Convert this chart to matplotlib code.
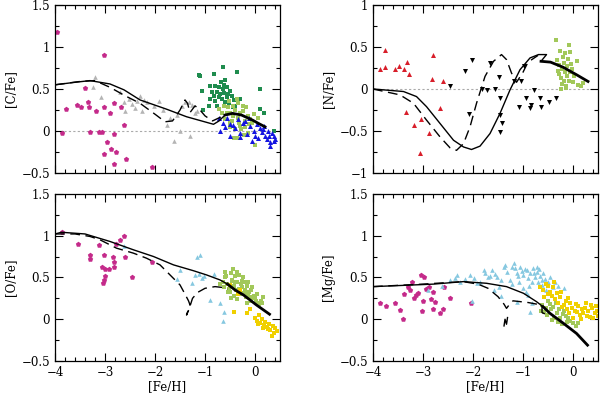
import matplotlib
matplotlib.use("Agg")
import matplotlib.pyplot as plt
from matplotlib.ticker import MultipleLocator, FuncFormatter

plt.rcParams['font.family'] = ['DejaVu Serif']
plt.rcParams['font.size'] = 8.5

# colours of the star samples
MAG = '#c42a8a'
GREY = '#b4b4b4'
DKGREEN = '#1f8c4e'
LTGREEN = '#a2c85a'
BLUE = '#1414e0'
RED = '#d81e2a'
LTBLUE = '#86c8e0'
YELLOW = '#f0d000'

# ---------------- [C/Fe] ----------------
c_mag = [(-3.97, 1.18), (-3.87, -0.02), (-3.78, 0.26), (-3.57, 0.31), (-3.49, 0.28), (-3.41, 0.51),
         (-3.35, 0.35), (-3.33, 0.29), (-3.30, -0.01), (-3.18, 0.24), (-3.13, -0.01), (-3.07, -0.01),
         (-3.03, 0.90), (-3.03, 0.29), (-3.03, -0.27), (-2.97, -0.13), (-2.90, 0.22), (-2.88, -0.21),
         (-2.83, 0.33), (-2.82, -0.03), (-2.82, -0.39), (-2.78, -0.25), (-2.69, 0.28), (-2.62, 0.07),
         (-2.58, -0.33), (-2.07, -0.43)]
c_grey = [(-3.21, 0.64), (-3.25, 0.52), (-3.09, 0.41), (-2.71, 0.46), (-2.63, 0.34), (-2.60, 0.24),
          (-2.53, 0.38), (-2.47, 0.32), (-2.40, 0.27), (-2.37, 0.36), (-2.30, 0.42), (-2.27, 0.24),
          (-2.23, 0.37), (-2.17, 0.34), (-2.03, 0.30), (-1.93, 0.36), (-1.85, 0.25), (-1.77, 0.07),
          (-1.70, 0.16), (-1.63, -0.12), (-1.57, 0.19), (-1.50, 0.00), (-1.47, 0.30), (-1.40, 0.34),
          (-1.33, 0.34), (-1.30, -0.06), (-1.27, 0.31), (-1.20, 0.22), (-1.17, 0.24)]
c_dkgreen = [(-1.13, 0.67), (-1.11, 0.66), (-0.83, 0.68), (-0.65, 0.76), (-0.37, 0.70), (-1.07, 0.48),
             (-0.60, 0.61), (-0.62, 0.55), (-0.90, 0.54), (-0.80, 0.53), (-0.73, 0.52), (-0.64, 0.50),
             (-0.57, 0.52), (-0.50, 0.48), (-0.87, 0.46), (-0.77, 0.47), (-0.70, 0.44), (-0.63, 0.45),
             (-0.83, 0.42), (-0.73, 0.40), (-0.67, 0.38), (-0.57, 0.40), (-0.47, 0.42), (-0.90, 0.38),
             (-0.80, 0.36), (-0.60, 0.35), (-0.43, 0.37), (-0.30, 0.38), (-0.93, 0.30), (0.10, 0.50),
             (0.10, 0.26), (0.17, 0.22), (0.37, 0.00), (-0.40, 0.30), (-1.05, 0.25), (-0.77, 0.30),
             (-0.53, 0.33), (-0.45, 0.28), (-0.68, 0.58), (-0.55, 0.44)]
c_ltgreen = [(-0.53, 0.36), (-0.45, 0.30), (-0.37, 0.38), (-0.50, 0.22), (-0.30, 0.22), (-0.25, 0.24),
             (-0.15, 0.18), (-0.03, 0.20), (-0.30, 0.06), (-0.40, 0.02), (-0.43, -0.08), (-0.37, -0.08),
             (-0.20, 0.05), (0.00, -0.17), (-0.60, 0.14), (-0.57, 0.22), (-0.67, 0.22), (-0.47, 0.12),
             (-0.10, 0.14), (-0.35, 0.15), (-0.55, 0.28), (-0.25, 0.30), (-0.45, 0.18), (-0.33, 0.10),
             (-0.20, 0.12), (-0.12, 0.08), (-0.50, 0.05), (-0.28, 0.02), (-0.40, 0.25), (-0.15, -0.02),
             (-0.07, 0.10), (-0.62, 0.30), (-0.72, 0.26), (0.05, 0.16), (-0.22, -0.05), (-0.35, 0.33),
             (-0.50, 0.10), (-0.18, 0.28)]
c_blue = [(-0.71, 0.00), (-0.73, 0.16), (-0.57, 0.16), (-0.50, 0.08), (-0.45, 0.07), (-0.40, 0.04),
          (-0.30, -0.02), (-0.20, 0.12), (-0.13, 0.16), (-0.10, 0.06), (-0.03, 0.00), (0.00, -0.06),
          (0.03, 0.08), (0.10, 0.04), (0.13, -0.01), (0.15, 0.02), (0.20, -0.06), (0.23, -0.10),
          (0.25, 0.00), (0.30, -0.13), (0.27, -0.06), (0.37, -0.06), (0.37, -0.12), (0.30, -0.18),
          (-0.30, -0.07), (-0.07, -0.12), (-0.17, -0.04), (-0.50, -0.06), (-0.60, 0.05), (-0.25, 0.10),
          (0.05, -0.08), (0.17, 0.06), (0.33, -0.02), (-0.35, 0.14), (-0.65, 0.10), (0.40, -0.10)]
c_solid = [(-4.0, 0.55), (-3.6, 0.58), (-3.3, 0.60), (-2.9, 0.56), (-2.62, 0.49), (-2.3, 0.37),
           (-1.77, 0.26), (-1.37, 0.17), (-0.95, 0.10), (-0.83, 0.08), (-0.72, 0.12), (-0.6, 0.19)]
c_thick = [(-0.6, 0.19), (-0.45, 0.21), (-0.27, 0.19), (-0.05, 0.13), (0.07, 0.09), (0.2, 0.05)]
c_dash = [(-4.0, 0.55), (-3.5, 0.59), (-3.2, 0.60), (-2.9, 0.52), (-2.6, 0.42), (-2.3, 0.33),
          (-2.0, 0.20), (-1.8, 0.11), (-1.65, 0.12), (-1.5, 0.25), (-1.4, 0.37), (-1.35, 0.33),
          (-1.3, 0.22), (-1.2, 0.30), (-1.1, 0.25), (-1.0, 0.18), (-0.85, 0.12), (-0.6, 0.19)]

# ---------------- [N/Fe] ----------------
n_red = [(-3.86, 0.24), (-3.76, 0.46), (-3.76, 0.26), (-3.56, 0.24), (-3.48, 0.27), (-3.39, 0.24),
         (-3.33, 0.32), (-3.29, 0.18), (-3.34, -0.27), (-3.18, -0.43), (-3.05, -0.36), (-3.06, -0.76),
         (-2.89, -0.52), (-2.83, 0.12), (-2.81, 0.41), (-2.67, -0.23), (-2.61, 0.10)]
n_black = [(-2.46, 0.04), (-2.16, 0.21), (-2.09, -0.30), (-2.03, 0.35), (-1.83, 0.00), (-1.73, -0.01),
           (-1.67, 0.31), (-1.56, 0.00), (-1.48, 0.14), (-1.47, -0.11), (-1.47, -0.31), (-1.46, -0.51),
           (-1.43, -0.41), (-1.19, 0.10), (-1.05, 0.10), (-1.09, -0.21), (-0.99, 0.27), (-0.94, -0.11),
           (-0.87, -0.23), (-0.84, -0.19), (-0.79, -0.01), (-0.66, -0.11), (-0.65, -0.22), (-0.49, -0.16),
           (-0.34, -0.11)]
n_ltgreen = [(-0.34, 0.58), (-0.26, 0.45), (-0.16, 0.43), (-0.09, 0.52), (-0.06, 0.44), (0.07, 0.33),
             (-0.19, 0.31), (-0.29, 0.29), (-0.12, 0.27), (-0.22, 0.24), (-0.16, 0.20), (-0.06, 0.20),
             (-0.30, 0.22), (-0.25, 0.13), (-0.12, 0.16), (-0.18, 0.10), (-0.08, 0.10), (0.00, 0.08),
             (0.10, 0.05), (-0.15, 0.04), (-0.25, 0.00), (-0.32, 0.34), (-0.20, 0.38), (-0.05, 0.30),
             (-0.10, 0.36), (0.02, 0.15), (0.15, 0.04), (-0.28, 0.18), (-0.14, 0.01), (-0.22, 0.06),
             (0.20, 0.07), (-0.02, 0.24)]
n_solid = [(-4.0, 0.0), (-3.59, -0.02), (-3.39, -0.03), (-3.13, -0.09), (-2.93, -0.21), (-2.66, -0.41),
           (-2.39, -0.61), (-2.19, -0.69), (-2.03, -0.72), (-1.86, -0.68), (-1.66, -0.53), (-1.46, -0.29),
           (-1.26, -0.01), (-1.06, 0.23), (-0.86, 0.37), (-0.69, 0.41), (-0.53, 0.41), (-0.64, 0.33)]
n_thick = [(-0.64, 0.33), (-0.45, 0.32), (-0.2, 0.26), (0.07, 0.17), (0.3, 0.09)]
n_dash = [(-4.0, 0.0), (-3.46, -0.07), (-3.19, -0.17), (-2.93, -0.37), (-2.66, -0.57), (-2.46, -0.70),
          (-2.33, -0.73), (-2.19, -0.65), (-2.06, -0.45), (-1.93, -0.17), (-1.76, 0.15), (-1.59, 0.33),
          (-1.43, 0.41), (-1.33, 0.35), (-1.23, 0.19), (-1.13, 0.08), (-1.0, 0.2), (-0.9, 0.32),
          (-0.7, 0.40)]

# ---------------- [O/Fe] ----------------
o_mag = [(-3.87, 1.04), (-3.55, 0.90), (-3.30, 0.77), (-3.30, 0.72), (-3.13, 0.89), (-3.03, 0.77),
         (-3.07, 0.63), (-3.00, 0.60), (-2.93, 0.60), (-3.00, 0.52), (-3.03, 0.47), (-3.05, 0.43),
         (-2.85, 0.75), (-2.83, 0.69), (-2.83, 0.63), (-2.78, 0.90), (-2.70, 0.95), (-2.62, 1.00),
         (-2.60, 0.75), (-2.47, 0.51), (-2.07, 0.69)]
o_ltblue = [(-2.62, 0.88), (-1.57, 0.48), (-1.50, 0.59), (-1.27, 0.43), (-1.20, 0.53), (-1.17, 0.75),
            (-1.10, 0.77), (-1.13, 0.54), (-1.07, 0.49), (-1.03, 0.52), (-0.90, 0.23), (-0.83, 0.54),
            (-0.70, 0.19), (-0.65, -0.02), (-0.62, 0.09)]
o_ltgreen = [(-0.65, 0.45), (-0.61, 0.50), (-0.56, 0.42), (-0.49, 0.55), (-0.46, 0.47), (-0.41, 0.52),
             (-0.36, 0.44), (-0.29, 0.42), (-0.26, 0.38), (-0.21, 0.35), (-0.14, 0.30), (-0.11, 0.27),
             (-0.04, 0.25), (0.01, 0.22), (0.06, 0.20), (0.12, 0.22), (-0.62, 0.38), (-0.53, 0.36),
             (-0.43, 0.40), (-0.33, 0.36), (-0.23, 0.30), (-0.13, 0.33), (-0.02, 0.28), (0.08, 0.18),
             (-0.58, 0.52), (-0.47, 0.46), (-0.38, 0.35), (-0.27, 0.46), (-0.17, 0.40), (-0.08, 0.22),
             (0.03, 0.30), (0.13, 0.20), (-0.51, 0.32), (-0.41, 0.44), (-0.31, 0.30), (-0.19, 0.26),
             (-0.09, 0.35), (0.00, 0.27), (-0.45, 0.60), (-0.36, 0.57), (-0.24, 0.50), (-0.15, 0.44),
             (-0.06, 0.38), (-0.70, 0.42), (-0.55, 0.33), (-0.33, 0.53), (-0.43, 0.28), (-0.27, 0.31),
             (-0.37, 0.24), (-0.17, 0.20), (-0.60, 0.56), (0.15, 0.26), (-0.48, 0.25), (-0.23, 0.45)]
o_yellow = [(-0.50, 0.41), (-0.43, 0.09), (-0.17, 0.07), (0.00, 0.01), (0.03, -0.02), (0.10, -0.04),
            (0.17, -0.07), (0.23, -0.09), (0.30, -0.13), (0.37, -0.16), (0.33, -0.20), (0.13, 0.00),
            (0.07, 0.05), (0.20, -0.03), (0.27, -0.06), (0.40, -0.11), (0.43, -0.14), (0.35, -0.08),
            (-0.30, 0.35), (-0.35, 0.30), (0.25, -0.12), (0.05, -0.06), (-0.10, 0.12), (0.15, -0.10)]
o_solid = [(-4.0, 1.02), (-3.87, 1.04), (-3.4, 1.02), (-2.9, 0.93), (-2.43, 0.83), (-2.03, 0.75),
           (-1.63, 0.65), (-1.23, 0.58), (-0.97, 0.53), (-0.7, 0.47), (-0.55, 0.42)]
o_thick = [(-0.55, 0.42), (-0.4, 0.35), (-0.23, 0.29), (0.03, 0.17), (0.29, 0.06)]
o_dash = [(-4.0, 1.02), (-3.6, 1.02), (-3.3, 0.99), (-3.1, 0.95), (-2.77, 0.85), (-2.43, 0.79),
          (-2.17, 0.73), (-1.9, 0.65), (-1.7, 0.53), (-1.5, 0.41), (-1.4, 0.30), (-1.33, 0.22),
          (-1.3, 0.17), (-1.37, 0.05), (-1.32, 0.12), (-1.25, 0.25), (-1.15, 0.32), (-1.0, 0.37),
          (-0.8, 0.39), (-0.65, 0.38), (-0.55, 0.36)]

# ---------------- [Mg/Fe] ----------------
mg_mag = [(-3.86, 0.20), (-3.74, 0.16), (-3.56, 0.20), (-3.47, 0.11), (-3.41, 0.00), (-3.38, 0.30),
          (-3.31, 0.38), (-3.27, 0.35), (-3.23, 0.44), (-3.19, 0.25), (-3.14, 0.29), (-3.10, 0.31),
          (-3.05, 0.53), (-2.99, 0.51), (-3.03, 0.10), (-3.01, 0.22), (-2.94, 0.36), (-2.89, 0.39),
          (-2.85, 0.24), (-2.81, 0.33), (-2.81, 0.12), (-2.76, 0.21), (-2.66, 0.07), (-2.61, 0.12),
          (-2.59, 0.39), (-2.46, 0.25), (-2.05, 0.20)]
mg_ltblue = [(-2.90, 0.35), (-2.47, 0.47), (-2.36, 0.49), (-2.33, 0.53), (-2.26, 0.45), (-2.16, 0.48),
             (-2.06, 0.53), (-1.99, 0.49), (-1.93, 0.43), (-1.86, 0.45), (-1.79, 0.59), (-1.76, 0.55),
             (-1.66, 0.52), (-1.63, 0.59), (-1.59, 0.35), (-1.56, 0.54), (-1.53, 0.50), (-1.49, 0.39),
             (-1.45, 0.47), (-1.39, 0.63), (-1.36, 0.65), (-1.33, 0.57), (-1.26, 0.47), (-1.19, 0.67),
             (-1.22, 0.62), (-1.16, 0.61), (-1.13, 0.55), (-1.10, 0.52), (-1.06, 0.63), (-1.03, 0.58),
             (-1.00, 0.53), (-1.00, 0.37), (-0.96, 0.60), (-0.93, 0.59), (-0.90, 0.49), (-0.90, 0.29),
             (-0.86, 0.55), (-0.83, 0.45), (-0.83, 0.19), (-0.80, 0.61), (-0.79, 0.55), (-0.76, 0.50),
             (-0.73, 0.57), (-0.73, 0.63), (-0.70, 0.45), (-0.66, 0.52), (-0.63, 0.41), (-0.60, 0.55),
             (-0.56, 0.48), (-0.50, 0.44), (-0.46, 0.51), (-0.40, 0.38), (-0.36, 0.45), (-0.30, 0.40),
             (-0.19, 0.37), (-1.13, 0.21), (-0.86, 0.09), (-0.95, 0.33), (-1.45, 0.28), (-2.03, 0.22),
             (-2.63, 0.40), (-1.70, 0.50), (-1.23, 0.42), (-0.55, 0.35), (-0.88, 0.40), (-0.68, 0.60),
             (-1.08, 0.45), (-0.62, 0.47)]
mg_ltgreen = [(-0.59, 0.09), (-0.52, 0.05), (-0.45, 0.12), (-0.38, 0.02), (-0.33, 0.08), (-0.26, 0.01),
              (-0.20, 0.06), (-0.13, -0.03), (-0.06, -0.02), (0.00, -0.05), (-0.40, 0.15), (-0.47, 0.18),
              (-0.30, -0.03), (-0.15, 0.04), (-0.22, -0.06), (-0.55, 0.13), (-0.62, 0.17), (-0.35, 0.20),
              (-0.10, 0.01), (0.05, -0.08), (-0.42, -0.01), (-0.28, 0.12), (-0.50, 0.22), (-0.18, 0.10),
              (0.10, -0.04), (-0.65, 0.10)]
mg_yellow = [(-0.66, 0.39), (-0.60, 0.35), (-0.55, 0.42), (-0.50, 0.30), (-0.46, 0.33), (-0.43, 0.28),
             (-0.40, 0.38), (-0.36, 0.24), (-0.33, 0.31), (-0.30, 0.20), (-0.26, 0.26), (-0.22, 0.15),
             (-0.19, 0.17), (-0.15, 0.22), (-0.12, 0.12), (-0.08, 0.08), (-0.06, 0.20), (-0.03, 0.14),
             (0.00, 0.02), (0.03, 0.10), (0.07, 0.09), (0.10, 0.16), (0.13, 0.05), (0.17, 0.12),
             (0.20, 0.07), (0.23, 0.14), (0.27, 0.04), (0.30, 0.10), (0.33, 0.03), (0.37, 0.13),
             (0.40, 0.02), (0.43, 0.07), (0.47, 0.10), (0.50, 0.04), (0.45, 0.16), (0.53, 0.08),
             (-0.50, 0.40), (-0.38, 0.44), (-0.58, 0.27), (-0.25, 0.32), (0.05, 0.18), (0.15, 0.00),
             (-0.10, 0.25), (0.25, 0.20), (0.35, 0.17)]
mg_solid = [(-4.0, 0.39), (-2.79, 0.42), (-2.19, 0.45), (-1.73, 0.43), (-1.33, 0.39), (-0.99, 0.31),
            (-0.73, 0.21), (-0.6, 0.15)]
mg_thick = [(-0.6, 0.15), (-0.46, 0.07), (-0.19, -0.05), (0.07, -0.17), (0.29, -0.31)]
mg_dash = [(-4.0, 0.39), (-3.0, 0.42), (-2.2, 0.45), (-1.9, 0.42), (-1.7, 0.37), (-1.5, 0.27),
           (-1.38, 0.18), (-1.33, 0.13), (-1.28, 0.17), (-1.2, 0.22), (-1.05, 0.21), (-0.9, 0.20),
           (-0.72, 0.18), (-0.62, 0.16), (-0.62, 0.08), (-0.55, 0.06)]
mg_dash_n = [(-1.38, -0.08), (-1.36, 0.0), (-1.33, -0.06), (-1.31, 0.02)]


def xy(pts):
    return [p[0] for p in pts], [p[1] for p in pts]


def dots(ax, pts, color, marker, size=11):
    x, y = xy(pts)
    ax.scatter(x, y, s=size, c=color, marker=marker, linewidths=0, zorder=2)


def curves(ax, solid, thick, dash):
    ax.plot(*xy(solid), color='k', lw=1.0, zorder=3)
    ax.plot(*xy(thick), color='k', lw=2.0, zorder=3)
    ax.plot(*xy(dash), color='k', lw=1.0, dashes=(7, 4), zorder=3)


fmt = FuncFormatter(lambda v, pos: f'{v:g}'.replace('-', '\u2212'))


def frame(ax, ylim, ylabel, bottom):
    ax.set_xlim(-4, 0.5)
    ax.set_ylim(*ylim)
    ax.xaxis.set_major_locator(MultipleLocator(1))
    ax.xaxis.set_minor_locator(MultipleLocator(0.2))
    ax.yaxis.set_major_locator(MultipleLocator(0.5))
    ax.yaxis.set_minor_locator(MultipleLocator(0.25))
    ax.xaxis.set_major_formatter(fmt)
    ax.yaxis.set_major_formatter(fmt)
    ax.tick_params(which='both', direction='in', top=True, right=True, width=0.8)
    ax.tick_params(which='major', length=6)
    ax.tick_params(which='minor', length=3)
    ax.set_ylabel(ylabel)
    ax.yaxis.set_label_coords(-0.17, 0.5)
    if bottom:
        ax.set_xlabel('[Fe/H]', labelpad=1)
    else:
        ax.tick_params(labelbottom=False)
    for s in ax.spines.values():
        s.set_linewidth(0.9)


fig = plt.figure(figsize=(6, 3.95), dpi=100)
ax1 = fig.add_axes([0.0917, 0.562, 0.375, 0.4253])
ax2 = fig.add_axes([0.6217, 0.562, 0.375, 0.4253])
ax3 = fig.add_axes([0.0917, 0.086, 0.375, 0.4233])
ax4 = fig.add_axes([0.6217, 0.086, 0.375, 0.4233])

# [C/Fe]
ax1.axhline(0, color='#aaaaaa', lw=0.8, ls=(0, (2, 2)), zorder=1)
dots(ax1, c_grey, GREY, '^')
dots(ax1, c_mag, MAG, 'p', 16)
dots(ax1, c_dkgreen, DKGREEN, 's', 9)
dots(ax1, c_ltgreen, LTGREEN, 's', 9)
dots(ax1, c_blue, BLUE, '^', 13)
curves(ax1, c_solid, c_thick, c_dash)
frame(ax1, (-0.5, 1.5), '[C/Fe]', False)

# [N/Fe]
ax2.axhline(0, color='#aaaaaa', lw=0.8, ls=(0, (2, 2)), zorder=1)
dots(ax2, n_red, RED, '^', 13)
dots(ax2, n_black, 'k', 'v', 13)
dots(ax2, n_ltgreen, LTGREEN, 's', 9)
curves(ax2, n_solid, n_thick, n_dash)
frame(ax2, (-1, 1), '[N/Fe]', False)

# [O/Fe]
dots(ax3, o_mag, MAG, 'p', 16)
dots(ax3, o_ltblue, LTBLUE, '^')
dots(ax3, o_ltgreen, LTGREEN, 's', 9)
dots(ax3, o_yellow, YELLOW, 's', 9)
curves(ax3, o_solid, o_thick, o_dash)
frame(ax3, (-0.5, 1.5), '[O/Fe]', True)

# [Mg/Fe]
dots(ax4, mg_mag, MAG, 'p', 16)
dots(ax4, mg_ltblue, LTBLUE, '^')
dots(ax4, mg_ltgreen, LTGREEN, 's', 9)
dots(ax4, mg_yellow, YELLOW, 's', 9)
curves(ax4, mg_solid, mg_thick, mg_dash)
ax4.plot(*xy(mg_dash_n), color='k', lw=1.0, zorder=3)
frame(ax4, (-0.5, 1.5), '[Mg/Fe]', True)

fig.savefig('out.png', dpi=100)
